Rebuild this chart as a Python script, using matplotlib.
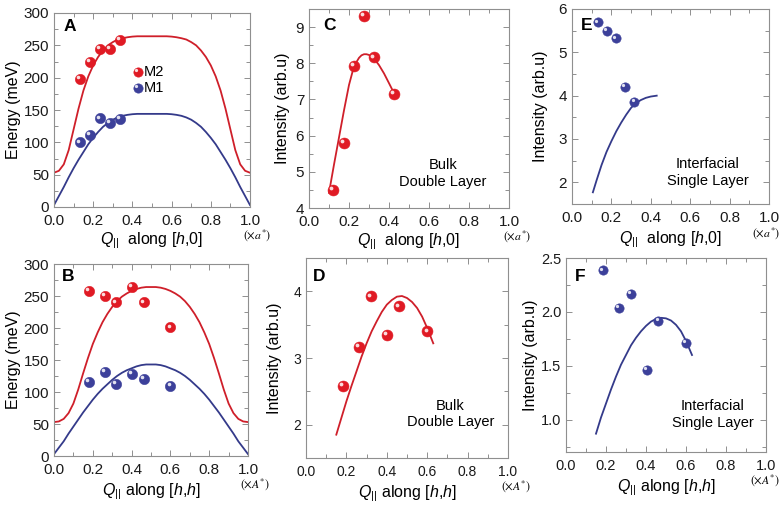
import matplotlib
matplotlib.use("Agg")
import matplotlib.pyplot as plt
from matplotlib.ticker import MultipleLocator, FormatStrFormatter
from matplotlib.transforms import offset_copy

plt.rcParams['font.family'] = ['Liberation Sans', 'DejaVu Sans']
plt.rcParams['mathtext.fontset'] = 'custom'
plt.rcParams['mathtext.rm'] = 'Liberation Sans'
plt.rcParams['mathtext.it'] = 'Liberation Sans:italic'

RED = '#e01a24'
RED_LINE = '#cf1f2a'
BLUE = '#3c409a'
BLUE_LINE = '#343a8a'
GRAY = '#8f8f8f'

# ---- data: panel A (along [h,0]) ----
qA_m2 = [0.131, 0.182, 0.233, 0.284, 0.336]
eA_m2 = [198, 224, 245, 244, 259]
qA_m1 = [0.131, 0.182, 0.233, 0.284, 0.336]
eA_m1 = [100, 112, 137, 130, 136]
q_fit = [0.0, 0.025, 0.05, 0.075, 0.1, 0.125, 0.15, 0.175, 0.2, 0.225,
         0.25, 0.275, 0.3, 0.325, 0.35, 0.375, 0.4, 0.425, 0.45, 0.475,
         0.5, 0.525, 0.55, 0.575, 0.6, 0.625, 0.65, 0.675, 0.7, 0.725,
         0.75, 0.775, 0.8, 0.825, 0.85, 0.875, 0.9, 0.925, 0.95, 0.975, 1.0]
fitA_m2 = [53, 56, 66, 88, 120, 152, 180, 202, 219, 232,
           242, 250, 255, 259, 261, 262.5, 263.5, 264, 264, 264,
           264, 264, 264, 264, 263.5, 262.5, 261, 259, 255, 250,
           242, 232, 219, 202, 180, 152, 120, 88, 66, 56, 53]
fitA_m1 = [3, 17, 31, 46, 60, 73, 85, 97, 107, 116,
           124, 130, 135, 138.5, 141, 142.5, 143.5, 144, 144, 144,
           144, 144, 144, 144, 143.5, 142.5, 141, 138.5, 135, 130,
           124, 116, 107, 97, 85, 73, 60, 46, 31, 17, 3]

# ---- panel B (along [h,h]) ----
qB = [0.18, 0.263, 0.32, 0.40, 0.462, 0.60]
eB_m2 = [258, 250, 240, 264, 240, 201]
eB_m1 = [116, 131, 113, 128, 120, 109]
fitB_m2 = [53, 54, 58, 67, 82, 104, 129, 153, 175, 193,
           209, 222, 233, 242, 249, 254, 258, 261, 263, 264,
           264, 264, 263, 261, 258, 254, 249, 242, 233, 222,
           209, 193, 175, 153, 129, 104, 82, 67, 58, 54, 53]
fitB_m1 = [3, 13, 23, 35, 46, 57, 68, 78, 88, 97,
           105, 112, 119, 125, 130, 134, 137, 140, 142, 143,
           143, 143, 142, 140, 137, 134, 130, 125, 119, 112,
           105, 97, 88, 78, 68, 57, 46, 35, 23, 13, 3]

# ---- panel C (bulk, [h,0]) ----
qC = [0.12, 0.173, 0.223, 0.275, 0.325, 0.425]
iC = [4.5, 5.79, 7.93, 9.31, 8.16, 7.15]
qC_fit = [0.1, 0.125, 0.15, 0.175, 0.2, 0.225, 0.25, 0.2625, 0.275, 0.2875,
          0.3, 0.325, 0.35, 0.375, 0.4, 0.43]
iC_fit = [4.42, 5.2, 5.95, 6.7, 7.4, 7.92, 8.15, 8.22, 8.25, 8.25,
          8.23, 8.13, 7.95, 7.72, 7.45, 7.12]

# ---- panel D (bulk, [h,h]) ----
qD = [0.181, 0.26, 0.321, 0.399, 0.461, 0.601]
iD = [2.585, 3.165, 3.925, 3.345, 3.775, 3.40]
qD_fit = [0.15, 0.175, 0.2, 0.225, 0.25, 0.275, 0.3, 0.325, 0.35, 0.375,
          0.4, 0.425, 0.45, 0.475, 0.5, 0.525, 0.55, 0.575, 0.6, 0.63]
iD_fit = [1.85, 2.1, 2.35, 2.58, 2.8, 3.02, 3.22, 3.4, 3.55, 3.69,
          3.8, 3.87, 3.92, 3.93, 3.9, 3.84, 3.75, 3.62, 3.45, 3.22]

# ---- panel E (interfacial, [h,0]) ----
qE = [0.13, 0.177, 0.224, 0.27, 0.317]
iE = [5.69, 5.50, 5.32, 4.21, 3.85]
qE_fit = [0.106, 0.125, 0.15, 0.175, 0.2, 0.225, 0.25, 0.275, 0.3, 0.325,
          0.35, 0.375, 0.4, 0.43]
iE_fit = [1.77, 2.05, 2.4, 2.7, 2.95, 3.18, 3.38, 3.56, 3.72, 3.83,
          3.9, 3.95, 3.98, 4.0]

# ---- panel F (interfacial, [h,h]) ----
qF = [0.183, 0.263, 0.323, 0.403, 0.462, 0.60]
iF = [2.385, 2.04, 2.166, 1.458, 1.92, 1.71]
qF_fit = [0.15, 0.175, 0.2, 0.225, 0.25, 0.275, 0.3, 0.325, 0.35, 0.375,
          0.4, 0.425, 0.45, 0.475, 0.5, 0.525, 0.55, 0.575, 0.6, 0.63]
iF_fit = [0.87, 1.02, 1.15, 1.28, 1.4, 1.51, 1.6, 1.69, 1.76, 1.82,
          1.87, 1.91, 1.935, 1.945, 1.94, 1.92, 1.88, 1.82, 1.73, 1.6]

fig = plt.figure(figsize=(7.8, 5.26), dpi=100)
W, H = 780.0, 526.0


def make_ax(l, t, r, b):
    return fig.add_axes([l / W, 1 - b / H, (r - l) / W, (b - t) / H])


def balls(ax, x, y, color, s=55):
    tr = ax.transData
    ax.scatter(x, y, s=s, color=color, edgecolors=color, linewidths=0.4,
               zorder=4, clip_on=False)
    hl = offset_copy(tr, fig=fig, x=-1.3, y=1.3, units='points')
    ax.scatter(x, y, s=s * 0.12, color='white', alpha=0.85, linewidths=0,
               zorder=5, transform=hl, clip_on=False)


def style(ax, xlim, ylim, ymaj, ymin, tick_size=11):
    ax.set_xlim(*xlim)
    ax.set_ylim(*ylim)
    ax.xaxis.set_major_locator(MultipleLocator(0.2))
    ax.xaxis.set_minor_locator(MultipleLocator(0.1))
    ax.yaxis.set_major_locator(MultipleLocator(ymaj))
    ax.yaxis.set_minor_locator(MultipleLocator(ymin))
    ax.tick_params(which='both', direction='in', top=True, right=True,
                   color=GRAY, width=0.7, labelsize=tick_size, labelcolor='#1a1a1a')
    ax.tick_params(which='major', length=4)
    ax.tick_params(which='minor', length=3)
    ax.tick_params(axis='x', pad=5)
    for sp in ax.spines.values():
        sp.set_color(GRAY)
        sp.set_linewidth(0.8)


def xlab(ax, top_row, dx_unit, dy_unit, dy_lab):
    if top_row:
        ax.set_xlabel(r'$Q_{||}$  along [$h$,$\mathit{0}$]', fontsize=11.5, labelpad=dy_lab)
        unit = r'$(\times a^{*})$'
    else:
        ax.set_xlabel(r'$Q_{||}$ along [$h$,$h$]', fontsize=11.5, labelpad=dy_lab)
        unit = r'$(\times A^{*})$'
    ax.annotate(unit, xy=(1, 0), xycoords='axes fraction', xytext=(dx_unit, -dy_unit),
                textcoords='offset points', ha='center', va='center',
                fontsize=8.5, math_fontfamily='stix')


def letter(ax, s, x, y):
    ax.text(x, y, s, transform=ax.transAxes, fontsize=12.5, fontweight='bold',
            ha='center', va='center')


# Panel A
axA = make_ax(54, 13, 250, 207)
style(axA, (0, 1), (0, 300), 50, 25)
axA.plot(q_fit, fitA_m2, color=RED_LINE, lw=1.3)
axA.plot(q_fit, fitA_m1, color=BLUE_LINE, lw=1.3)
balls(axA, qA_m2, eA_m2, RED)
balls(axA, qA_m1, eA_m1, BLUE)
axA.set_ylabel('Energy (meV)', fontsize=11.5, labelpad=2)
xlab(axA, True, 5, 20, 2)
letter(axA, 'A', 0.08, 0.93)
balls(axA, [0.43], [209], RED, s=45)
balls(axA, [0.43], [184], BLUE, s=45)
axA.text(0.46, 209, 'M2', fontsize=10.5, va='center')
axA.text(0.46, 184, 'M1', fontsize=10.5, va='center')

# Panel B
axB = make_ax(54, 264, 248, 456)
style(axB, (0, 1), (0, 300), 50, 25)
axB.plot(q_fit, fitB_m2, color=RED_LINE, lw=1.3)
axB.plot(q_fit, fitB_m1, color=BLUE_LINE, lw=1.3)
balls(axB, qB, eB_m2, RED)
balls(axB, qB, eB_m1, BLUE)
axB.set_ylabel('Energy (meV)', fontsize=11.5, labelpad=2)
xlab(axB, False, 5, 20, 3)
letter(axB, 'B', 0.075, 0.935)

# Panel C
axC = make_ax(309, 9, 509, 208)
style(axC, (0, 1), (4, 9.5), 1, 0.5)
axC.plot(qC_fit, iC_fit, color=RED_LINE, lw=1.3)
balls(axC, qC, iC, RED, s=62)
axC.set_ylabel('Intensity (arb.u)', fontsize=11.5, labelpad=4)
xlab(axC, True, 6, 20, 2)
letter(axC, 'C', 0.105, 0.915)
axC.text(0.67, 0.175, 'Bulk\nDouble Layer', transform=axC.transAxes,
         ha='center', va='center', fontsize=10.5, linespacing=1.25)

# Panel D
axD = make_ax(306, 258, 508, 458)
style(axD, (0, 1), (1.5, 4.5), 1, 0.5, tick_size=10)
axD.plot(qD_fit, iD_fit, color=RED_LINE, lw=1.3)
balls(axD, qD, iD, RED, s=62)
axD.set_ylabel('Intensity (arb.u)', fontsize=11.5, labelpad=8)
xlab(axD, False, 6, 20, 3)
letter(axD, 'D', 0.065, 0.91)
axD.text(0.715, 0.22, 'Bulk\nDouble Layer', transform=axD.transAxes,
         ha='center', va='center', fontsize=10.5, linespacing=1.25)

# Panel E
axE = make_ax(572, 9, 769, 204)
style(axE, (0, 1), (1.5, 6), 1, 0.5)
axE.plot(qE_fit, iE_fit, color=BLUE_LINE, lw=1.3)
balls(axE, qE, iE, BLUE, s=45)
axE.set_ylabel('Intensity (arb.u)', fontsize=11.5, labelpad=8)
xlab(axE, True, -2, 21, 3)
letter(axE, 'E', 0.075, 0.915)
axE.text(0.69, 0.16, 'Interfacial\nSingle Layer', transform=axE.transAxes,
         ha='center', va='center', fontsize=10.5, linespacing=1.25)

# Panel F
axF = make_ax(566, 258, 766, 452)
style(axF, (0, 1), (0.7, 2.5), 0.5, 0.25, tick_size=10.5)
axF.yaxis.set_major_formatter(FormatStrFormatter('%.1f'))
axF.plot(qF_fit, iF_fit, color=BLUE_LINE, lw=1.3)
balls(axF, qF, iF, BLUE, s=45)
axF.set_ylabel('Intensity (arb.u)', fontsize=11.5, labelpad=2)
xlab(axF, False, -1, 20, 3)
letter(axF, 'F', 0.07, 0.905)
axF.text(0.735, 0.195, 'Interfacial\nSingle Layer', transform=axF.transAxes,
         ha='center', va='center', fontsize=10.5, linespacing=1.25)

fig.savefig('out.png', dpi=100)
